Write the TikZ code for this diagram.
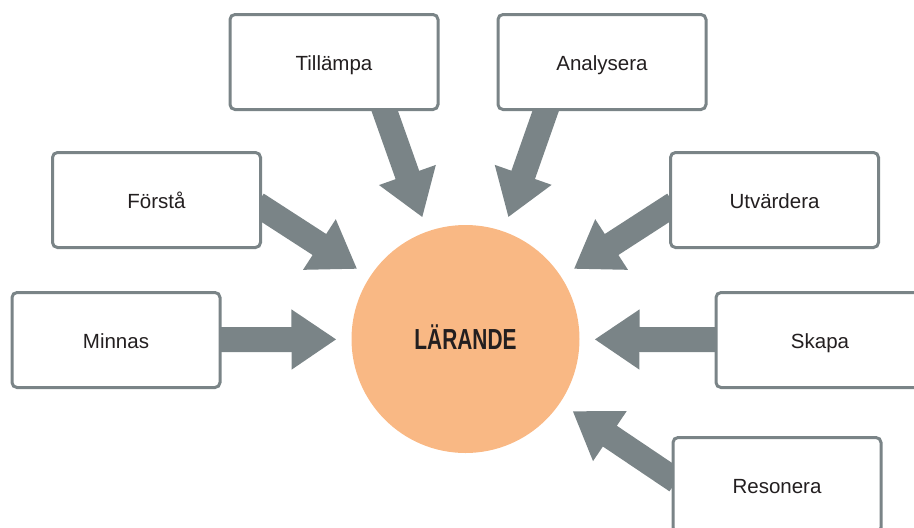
\documentclass[tikz,border=0pt]{standalone}
\usepackage{fontspec}
\setmainfont{Liberation Sans}
\newfontfamily\condensedfont[FakeStretch=0.72]{Liberation Sans Bold}
\usepackage{tikz}
\usetikzlibrary{arrows.meta, backgrounds}
\definecolor{levelgray}{HTML}{7A8487}
\definecolor{learnorange}{HTML}{F9B884}
\definecolor{textdark}{HTML}{231F20}
\tikzset{
    levelbox/.style={
        draw=levelgray,
        line width=3pt,
        fill=white,
        rounded corners=5pt,
        minimum width=208pt,
        minimum height=95pt,
        inner sep=0pt,
        text height=18pt,
        text depth=1.7pt,
        text=textdark,
        font=\fontsize{20.5}{24}\selectfont
    },
    learning/.style={circle, fill=learnorange, minimum size=228pt, inner sep=0pt, outer sep=0pt,
        text depth=4pt, text=textdark, font=\condensedfont\fontsize{29}{32}\selectfont},
    bigflow/.style={-{Triangle[length=45pt, width=57pt]}, line width=25pt, draw=levelgray,
        shorten >=15pt, shorten <=-6pt}
}

\begin{document}
\begin{tikzpicture}[x=1pt, y=-1pt]
    \useasboundingbox (0,0) rectangle (914,528);

    \node[learning] (larande) at (465.5,339) {LÄRANDE};

    \node[levelbox] (minnas) at (116,340) {Minnas};
    \node[levelbox] (forsta) at (156.5,200) {Förstå};
    \node[levelbox] (tillampa) at (334,62) {Tillämpa};
    \node[levelbox] (analysera) at (602,62) {Analysera};
    \node[levelbox] (utvardera) at (774.5,200) {Utvärdera};
    \node[levelbox] (skapa) at (820,340) {Skapa};
    \node[levelbox] (resonera) at (777,485) {Resonera};

    \begin{pgfonlayer}{background}
        \draw[bigflow] (minnas) -- (larande);
        \draw[bigflow] (forsta.-4) -- (larande);
        \draw[bigflow] (tillampa.-44) -- (larande);
        \draw[bigflow] (analysera.-139) -- (larande);
        \draw[bigflow] (utvardera.184) -- (larande);
        \draw[bigflow] (skapa) -- (larande);
        \draw[bigflow] (resonera.176) -- (larande);
    \end{pgfonlayer}
\end{tikzpicture}
\end{document}
